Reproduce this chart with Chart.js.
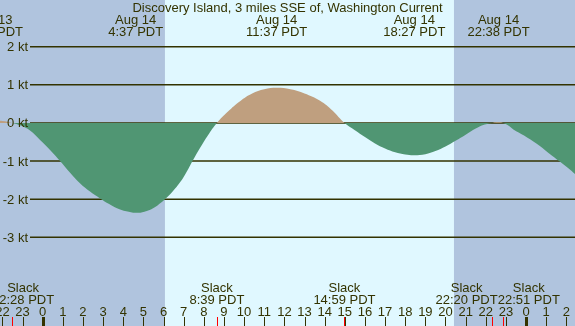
<!DOCTYPE html>
<html>
<head>
<meta charset="utf-8">
<script src="https://cdn.jsdelivr.net/npm/chart.js@4.4.0/dist/chart.umd.min.js"></script>
<style>
  html, body { margin: 0; padding: 0; background: #b0c4de; }
  #wrap { width: 575px; height: 326px; }
</style>
</head>
<body>
<div id="wrap"><canvas id="tide" width="575" height="326"></canvas></div>
<script>
// hours counted from Aug 14 00:00 PDT (negative = Aug 13)
const hours = [-3.5, -3.0, -2.52, -2.0, -1.53, -1.1, -0.63, -0.13, 0.4, 0.86,
    1.35, 1.85, 2.35, 2.85, 3.3, 3.69, 4.15, 4.62, 5.05, 5.48,
    6.07, 6.45, 6.82, 7.15, 7.46, 7.81, 8.2, 8.65, 9.2, 9.8,
    10.4, 11.0, 11.62, 12.3, 13.0, 13.77, 14.4, 14.98, 15.5, 16.0,
    16.5, 17.0, 17.5, 18.0, 18.45, 19.0, 19.5, 20.0, 20.5, 21.0,
    21.5, 21.8, 22.1, 22.33, 22.5, 22.63, 22.75, 22.85, 23.1, 23.37,
    23.9, 24.53, 25.1, 25.69, 26.1, 26.43, 26.8];
// current speed in knots (+ flood, - ebb)
const speeds = [0, 0.04, 0.06, 0.05, 0, -0.07, -0.2, -0.45, -0.73, -1.0,
    -1.3, -1.58, -1.8, -1.98, -2.13, -2.24, -2.32, -2.36, -2.33, -2.24,
    -2.0, -1.8, -1.56, -1.28, -0.98, -0.66, -0.33, 0, 0.3, 0.57,
    0.77, 0.88, 0.92, 0.88, 0.77, 0.58, 0.32, 0, -0.19, -0.37,
    -0.54, -0.67, -0.77, -0.83, -0.85, -0.82, -0.74, -0.62, -0.47, -0.31,
    -0.15, -0.07, -0.02, 0, 0.015, 0.02, 0.015, 0, -0.06, -0.17,
    -0.33, -0.55, -0.78, -1.02, -1.19, -1.34, -1.5];

const title = 'Discovery Island, 3 miles SSE of, Washington Current';
const yTicks = [2, 1, 0, -1, -2, -3];
const yTickLabels = ['2 kt', '1 kt', '0 kt', '-1 kt', '-2 kt', '-3 kt'];

// sunrise / sunset on Aug 14
const daylight = [6.07, 20.42];

// max flood / max ebb events (top labels)
const eventTimes = [-2.52, 4.617, 11.617, 18.45, 22.633];
const eventDates = ['Aug 13', 'Aug 14', 'Aug 14', 'Aug 14', 'Aug 14'];
const eventLabels = ['21:29 PDT', '4:37 PDT', '11:37 PDT', '18:27 PDT', '22:38 PDT'];

// slack water (bottom labels, red ticks)
const slackTimes = [-3.5, -1.533, 8.65, 14.983, 22.333, 22.85];
const slackLabels = ['20:30 PDT', '22:28 PDT', '8:39 PDT', '14:59 PDT', '22:20 PDT', '22:51 PDT'];

const hourTicks = [-2, -1, 0, 1, 2, 3, 4, 5, 6, 7, 8, 9, 10, 11, 12, 13, 14,
    15, 16, 17, 18, 19, 20, 21, 22, 23, 24, 25, 26];
const hourLabels = ['22', '23', '0', '1', '2', '3', '4', '5', '6', '7', '8', '9', '10', '11', '12', '13', '14',
    '15', '16', '17', '18', '19', '20', '21', '22', '23', '0', '1', '2'];

const ink = '#333300';
const font = '13px "Liberation Sans", Arial, sans-serif';

const tidePlugin = {
    id: 'tideDecor',
    beforeDraw(chart) {
        const { ctx, width, height } = chart;
        const x = chart.scales.x;
        const rise = x.getPixelForValue(daylight[0]);
        const set = x.getPixelForValue(daylight[1]);
        ctx.save();
        ctx.fillStyle = '#b0c4de';
        ctx.fillRect(0, 0, width, height);
        ctx.fillStyle = '#e0f8ff';
        ctx.fillRect(rise, 0, set - rise, height);
        ctx.restore();
    },
    beforeDatasetsDraw(chart) {
        const { ctx, width } = chart;
        const y = chart.scales.y;
        ctx.save();
        ctx.strokeStyle = ink;
        ctx.lineWidth = 1.5;
        yTicks.forEach(v => {
            const py = y.getPixelForValue(v);
            ctx.beginPath();
            ctx.moveTo(30, py);
            ctx.lineTo(width, py);
            ctx.stroke();
        });
        ctx.restore();
    },
    afterDraw(chart) {
        const { ctx, width } = chart;
        const x = chart.scales.x;
        const y = chart.scales.y;
        ctx.save();
        ctx.font = font;
        ctx.fillStyle = ink;

        // y labels
        ctx.textAlign = 'right';
        yTicks.forEach((v, i) => {
            ctx.fillText(yTickLabels[i], 28, Math.round(y.getPixelForValue(v) + 4.5));
        });

        // title
        ctx.textAlign = 'center';
        ctx.fillText(title, width / 2, 12);

        // max / min labels
        eventTimes.forEach((t, i) => {
            const px = x.getPixelForValue(t);
            ctx.fillText(eventDates[i], px, 24);
            ctx.fillText(eventLabels[i], px, 36);
        });

        // slack labels, pushed apart when they collide
        const centers = slackTimes.map(t => x.getPixelForValue(t));
        const widths = slackLabels.map(s => ctx.measureText(s).width);
        for (let i = 0; i < centers.length - 1; i++) {
            const need = (widths[i] + widths[i + 1]) / 2;
            if (centers[i + 1] - centers[i] < need) {
                const mid = (centers[i] + centers[i + 1]) / 2;
                centers[i] = mid - need / 2;
                centers[i + 1] = mid + need / 2;
            }
        }
        centers.forEach((c, i) => {
            ctx.fillText('Slack', c, 292);
            ctx.fillText(slackLabels[i], c, 304);
        });

        // hour numbers and ticks
        hourTicks.forEach((h, i) => {
            const px = x.getPixelForValue(h);
            ctx.fillText(hourLabels[i], px, 316);
            const midnight = hourLabels[i] === '0';
            ctx.fillRect(Math.round(px) - (midnight ? 1 : 0), 317, midnight ? 3 : 1, 9);
        });
        ctx.fillStyle = '#ff0000';
        slackTimes.forEach(t => {
            const px = x.getPixelForValue(t);
            ctx.fillRect(Math.round(px), 317, 1, 9);
        });
        ctx.restore();
    }
};

new Chart(document.getElementById('tide'), {
    type: 'line',
    data: {
        datasets: [{
            data: hours.map((h, i) => ({ x: h, y: speeds[i] })),
            fill: { target: 'origin', above: '#bf9f7f', below: '#509673' },
            borderWidth: 0,
            borderColor: 'rgba(0,0,0,0)',
            pointRadius: 0,
            tension: 0.4
        }]
    },
    options: {
        responsive: false,
        animation: false,
        devicePixelRatio: 1,
        layout: { padding: 0 },
        plugins: { legend: { display: false }, tooltip: { enabled: false } },
        scales: {
            x: { type: 'linear', min: -2.12, max: 26.43, display: false },
            y: { min: -5.328, max: 3.224, display: false }
        }
    },
    plugins: [tidePlugin]
});
</script>
</body>
</html>
